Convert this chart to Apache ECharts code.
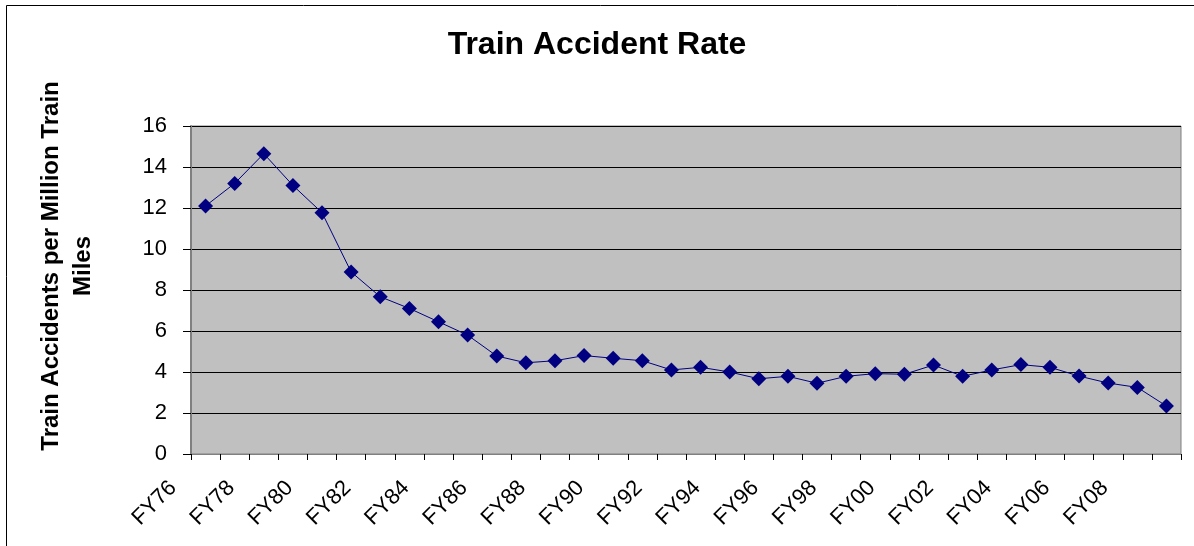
<!DOCTYPE html>
<html>
<head>
<meta charset="utf-8">
<script src="https://cdn.jsdelivr.net/npm/echarts@6/dist/echarts.min.js"></script>
<style>
html,body{margin:0;padding:0;background:#fff;}
#chart{width:1194px;height:546px;}
</style>
</head>
<body>
<div id="chart"></div>
<script>
const categories = ['FY76','FY77','FY78','FY79','FY80','FY81','FY82','FY83','FY84','FY85','FY86','FY87','FY88','FY89','FY90','FY91','FY92','FY93','FY94','FY95','FY96','FY97','FY98','FY99','FY00','FY01','FY02','FY03','FY04','FY05','FY06','FY07','FY08','FY09'];
const accidentRate = [12.1,13.2,14.65,13.1,11.77,8.88,7.67,7.1,6.45,5.8,4.78,4.45,4.55,4.8,4.67,4.55,4.1,4.23,4.0,3.67,3.79,3.45,3.79,3.92,3.89,4.34,3.79,4.1,4.36,4.23,3.8,3.46,3.25,2.34];
const yTicks = [0,2,4,6,8,10,12,14,16];

const chart = echarts.init(document.getElementById('chart'));
const font = '"Liberation Sans", Arial, sans-serif';
chart.setOption({
  animation: false,
  backgroundColor: '#fff',
  title: {
    text: 'Train Accident Rate',
    left: 'center',
    top: 29,
    padding: 0,
    textStyle: { fontFamily: font, fontSize: 32, fontWeight: 'bold', color: '#000' }
  },
  graphic: [{
    type: 'rect',
    shape: { x: 6.5, y: 5.5, width: 1300, height: 700 },
    style: { fill: 'none', stroke: '#000', lineWidth: 1 },
    silent: true
  }],
  grid: {
    left: 191, right: 13, top: 126, bottom: 92,
    show: true,
    backgroundColor: '#C0C0C0',
    borderColor: '#808080',
    borderWidth: 1
  },
  xAxis: {
    type: 'category',
    data: categories,
    boundaryGap: true,
    axisLine: { show: true, lineStyle: { color: '#808080', width: 1 } },
    axisTick: { show: true, interval: 0, length: 6, lineStyle: { color: '#000' } },
    axisLabel: {
      interval: 1,
      rotate: 45,
      margin: -2,
      padding: [0, 46, 0, 0],
      fontFamily: font,
      fontSize: 22,
      color: '#000'
    },
    splitLine: { show: false }
  },
  yAxis: {
    type: 'value',
    min: 0, max: 16, interval: 2,
    name: 'Train Accidents per Million Train\nMiles',
    nameLocation: 'middle',
    nameGap: 92,
    nameTextStyle: {
      fontFamily: font, fontSize: 24, fontWeight: 'bold', color: '#000',
      lineHeight: 32, align: 'center', padding: [0, 0, 0, 48]
    },
    axisLine: { show: true, lineStyle: { color: '#808080', width: 2 } },
    axisTick: { show: true, length: 8, lineStyle: { color: '#000' } },
    axisLabel: {
      margin: 24,
      fontFamily: font, fontSize: 22, color: '#000',
      formatter: function (v) { return yTicks.indexOf(v) >= 0 ? String(v) : ''; }
    },
    splitLine: { show: true, lineStyle: { color: '#000', width: 1 } }
  },
  series: [{
    type: 'line',
    data: accidentRate,
    symbol: 'diamond',
    symbolSize: 15,
    lineStyle: { color: '#000080', width: 1 },
    itemStyle: { color: '#000080' }
  }]
});
</script>
</body>
</html>
